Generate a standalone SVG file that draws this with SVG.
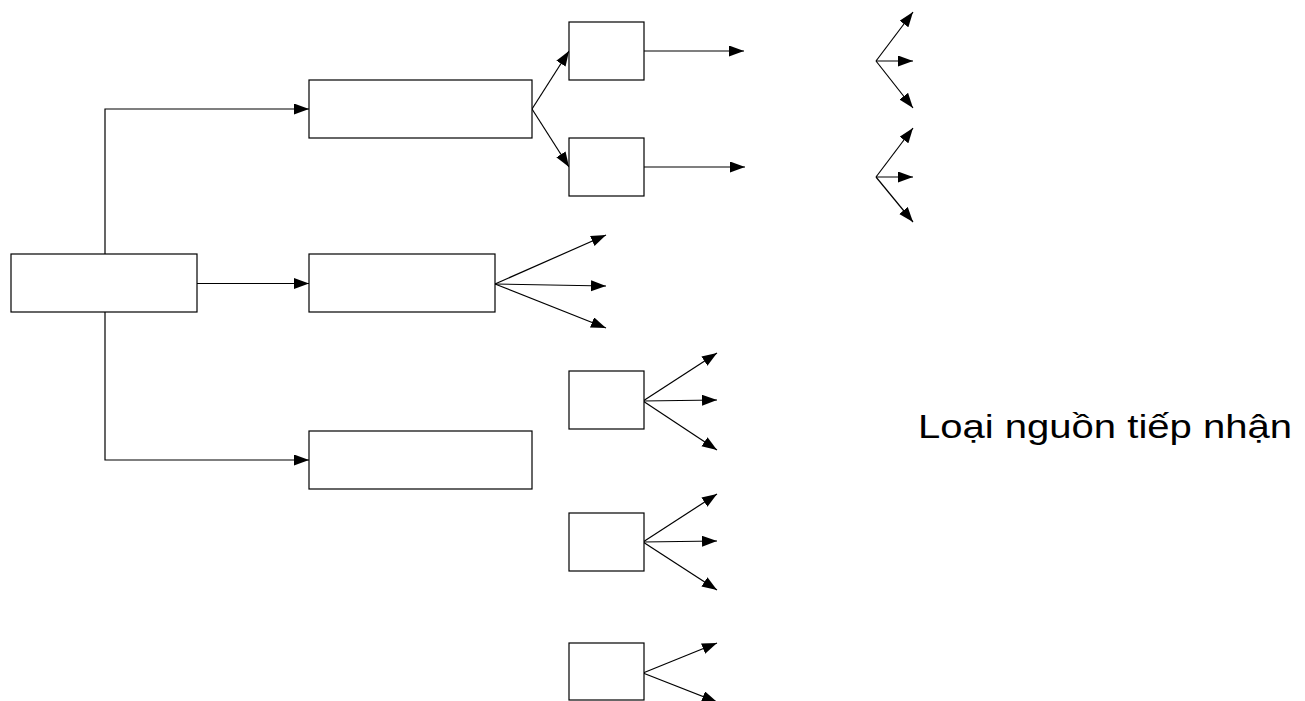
<svg xmlns="http://www.w3.org/2000/svg" width="1305" height="701" viewBox="0 0 1305 701">
<style>
.box{fill:#fff;stroke:#000;stroke-width:1.2}
.ln{fill:none;stroke:#000;stroke-width:1.2}
.arr{fill:none;stroke:#000;stroke-width:1.2;marker-end:url(#ah)}
.lbl{font-family:"Liberation Sans",Arial,sans-serif;font-size:34px;fill:#000}
</style>
<defs>
<marker id="ah" markerUnits="userSpaceOnUse" markerWidth="16" markerHeight="12" refX="15" refY="5.5" orient="auto">
<path d="M0,0 L15,5.5 L0,11 Z" fill="#000"/>
</marker>
</defs>
<g id="connectors">
<path class="arr" d="M105,254 V109 H309"/>
<path class="arr" d="M197,283.5 H309"/>
<path class="arr" d="M105,312 V460 H309"/>
<path class="arr" d="M532,109 L569,51"/>
<path class="arr" d="M532,109 L569,167"/>
<path class="arr" d="M644,51 H744"/>
<path class="arr" d="M644,167 H745"/>
<path class="arr" d="M876,61 L913,12"/>
<path class="arr" d="M876,61 H913"/>
<path class="arr" d="M876,61 L913,108"/>
<path class="arr" d="M876,177 L913,128"/>
<path class="arr" d="M876,177 H913"/>
<path class="arr" d="M876,177 L913,222"/>
<path class="arr" d="M495,284 L606,235"/>
<path class="arr" d="M495,284 L606,286"/>
<path class="arr" d="M495,284 L606,328"/>
<path class="arr" d="M643,401 L717,353"/>
<path class="arr" d="M643,401 L717,400"/>
<path class="arr" d="M643,401 L717,450"/>
<path class="arr" d="M643,542 L717,494"/>
<path class="arr" d="M643,542 L717,541"/>
<path class="arr" d="M643,542 L717,590"/>
<path class="arr" d="M643,673 L717,643"/>
<path class="arr" d="M643,673 L717,702"/>
</g>
<g id="root"><rect class="box" x="11" y="254" width="186" height="58"/></g>
<g id="n1"><rect class="box" x="309" y="80" width="223" height="58"/></g>
<g id="n2"><rect class="box" x="309" y="254" width="186" height="58"/></g>
<g id="n3"><rect class="box" x="309" y="431" width="223" height="58"/></g>
<g id="s1"><rect class="box" x="569" y="22" width="75" height="58"/></g>
<g id="s2"><rect class="box" x="569" y="138" width="75" height="58"/></g>
<g id="s3"><rect class="box" x="569" y="371" width="75" height="58"/></g>
<g id="s4"><rect class="box" x="569" y="513" width="75" height="58"/></g>
<g id="s5"><rect class="box" x="569" y="643" width="75" height="57"/></g>
<g id="label"><text class="lbl" x="918" y="438" textLength="374" lengthAdjust="spacingAndGlyphs">Loại nguồn tiếp nhận</text></g>
</svg>
